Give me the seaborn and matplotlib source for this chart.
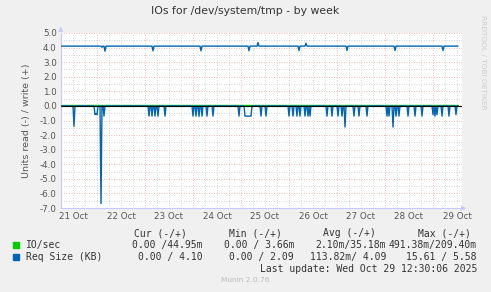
import numpy as np
import pandas as pd
import matplotlib
matplotlib.use("Agg")
import matplotlib.pyplot as plt
import seaborn as sns

# ---------------- data (hours since 21 Oct 00:00, 30-min samples) -------------
start_h = 6.0
end_h = 204.5
x_min, x_max = 6.0, 206.5

day_labels = ["21 Oct", "22 Oct", "23 Oct", "24 Oct", "25 Oct",
              "26 Oct", "27 Oct", "28 Oct", "29 Oct"]

# write side of Req Size (KB): baseline and daily dips / bumps
write_base = 4.10
write_dip_hours = [26.5, 28.0, 52.0, 76.0, 100.0, 125.0, 149.0, 173.0, 197.0]
write_dip_values = [4.02, 3.75, 3.78, 3.78, 3.78, 3.80, 3.80, 3.80, 3.80]
write_bump_hours = [104.5, 128.5]
write_bump_values = [4.35, 4.30]

# read side of Req Size (KB): spikes (shown negative)
read_spike_hours = [12.5, 23.0, 23.5, 24.0, 26.0, 27.5,
                    50.0, 51.5, 53.0, 54.5, 58.0,
                    72.0, 73.5, 75.0, 76.5, 79.0, 82.0,
                    95.0, 98.0, 98.5, 99.0, 99.5, 100.0, 100.5, 101.0, 106.0, 108.5,
                    120.0, 122.0, 124.0, 125.5, 128.0, 129.5, 130.5,
                    139.0, 141.5, 144.5, 146.5, 148.0, 152.5, 155.0, 159.0,
                    169.0, 170.0, 172.0, 173.5, 175.0, 179.5, 183.0, 186.5,
                    192.0, 193.0, 194.0, 196.5, 200.0, 203.5]
read_spike_values = [1.40, 0.60, 0.55, 0.60, 6.70, 0.70,
                     0.70, 0.70, 0.70, 0.70, 0.70,
                     0.70, 0.70, 0.72, 0.70, 0.70, 0.70,
                     0.70, 0.70, 0.70, 0.70, 0.70, 0.70, 0.70, 0.70, 0.70, 0.70,
                     0.70, 0.70, 0.70, 0.70, 0.70, 0.70, 0.70,
                     0.70, 0.70, 0.70, 0.70, 1.45, 0.70, 0.70, 0.70,
                     0.70, 0.70, 1.45, 0.70, 0.70, 0.70, 0.70, 0.70,
                     0.60, 0.70, 0.60, 0.70, 0.70, 0.60]

# IO/sec write side: small level with gaps
io_level = 0.07
io_gap_starts = [9.0, 15.0, 21.0, 36.0, 47.0, 62.0, 84.0, 95.0, 112.0, 120.0,
                 134.0, 143.0, 156.0, 166.0, 178.0, 185.0, 198.0]
io_gap_ends = [10.0, 16.5, 29.5, 37.0, 52.0, 63.5, 85.0, 100.0, 113.0, 126.0,
               135.0, 147.0, 157.0, 170.0, 179.0, 188.0, 199.0]

# legend table
col_headers = ["Cur (-/+)", "Min (-/+)", "Avg (-/+)", "Max (-/+)"]
io_stats = ["0.00 /44.95m", "0.00 / 3.66m", "2.10m/35.18m", "491.38m/209.40m"]
req_stats = ["0.00 / 4.10", "0.00 / 2.09", "113.82m/ 4.09", "15.61 / 5.58"]

# ---------------- build series -------------------------------------------------
t = np.arange(start_h, end_h + 0.25, 0.5)
write = np.full_like(t, write_base)
for h, v in zip(write_dip_hours, write_dip_values):
    write[np.isclose(t, h)] = v
for h, v in zip(write_bump_hours, write_bump_values):
    write[np.isclose(t, h)] = v
read = np.zeros_like(t)
for h, v in zip(read_spike_hours, read_spike_values):
    read[np.isclose(t, h)] = -v
io = np.full_like(t, io_level)
for a, b in zip(io_gap_starts, io_gap_ends):
    io[(t >= a) & (t <= b)] = np.nan

df = pd.DataFrame({"t": t, "write": write, "read": read, "io": io})

# ---------------- figure -------------------------------------------------------
sns.set_theme(style="white")
plt.rcParams['font.family'] = ['DejaVu Sans']

W, H = 491, 292
fig = plt.figure(figsize=(W / 100, H / 100), dpi=100)
fig.patch.set_facecolor("#F0F0F0")

px_l, px_r, px_t, px_b = 61, 462, 33, 208
ax = fig.add_axes([px_l / W, 1 - px_b / H, (px_r - px_l) / W, (px_b - px_t) / H])
ax.set_facecolor("white")
ax.set_xlim(x_min, x_max)
ax.set_ylim(-7.0, 5.0)

# grid
dot = (0, (1, 2))
for yv in np.arange(-6.5, 5.0, 1.0):
    ax.axhline(yv, color="#C8C8C8", lw=0.6, ls=dot, zorder=0)
for yv in np.arange(-7.0, 5.01, 1.0):
    ax.axhline(yv, color="#F0A0A0", lw=0.6, ls=dot, zorder=0)
for xv in np.arange(6.0, x_max, 6.0):
    if xv % 24 != 0:
        ax.axvline(xv, color="#C8C8C8", lw=0.6, ls=dot, zorder=0)
for xv in np.arange(24.0, x_max, 24.0):
    ax.axvline(xv, color="#F0A0A0", lw=0.6, ls=dot, zorder=0)

sns.lineplot(data=df, x="t", y="io", ax=ax, color="#00CC00", lw=1.0, zorder=2)
sns.lineplot(data=df, x="t", y="read", ax=ax, color="#0066B3", lw=1.0, zorder=3)
ax.axhline(0, color="black", lw=0.8, zorder=4)
sns.lineplot(data=df, x="t", y="write", ax=ax, color="#0066B3", lw=1.0, zorder=3)

for s in ["top", "right"]:
    ax.spines[s].set_visible(False)
for s in ["left", "bottom"]:
    ax.spines[s].set_color("#C8C8FF")
    ax.spines[s].set_linewidth(0.8)
ax.set_xlabel("")
ax.set_ylabel("Units read (-) / write (+)", fontsize=6.8, color="#555555", labelpad=6)

ax.set_yticks(np.arange(-7.0, 5.01, 1.0))
ax.set_yticklabels([f"{v:.1f}" for v in np.arange(-7.0, 5.01, 1.0)])
ax.set_xticks([12 + 24 * i for i in range(len(day_labels))])
ax.set_xticklabels(day_labels)
ax.tick_params(axis="both", length=0, labelsize=6.3, labelcolor="#555555", pad=3)

# arrows
fig.text((px_r + 2) / W, 1 - px_b / H, "\u25B6", color="#C8C8FF", fontsize=5,
         ha="center", va="center")
fig.text(px_l / W, 1 - (px_t - 4) / H, "\u25B2", color="#C8C8FF", fontsize=5,
         ha="center", va="center")

# title and side text
fig.text(245 / W, 1 - 11 / H, "IOs for /dev/system/tmp - by week", ha="center",
         va="center", fontsize=7.8, color="#333333")
fig.text(483 / W, 1 - 15 / H, "RRDTOOL / TOBI OETIKER", rotation=270, ha="center",
         va="top", fontsize=5.3, color="#CCCCCC")

# legend table
mono = "DejaVu Sans Mono"
fs = 7.0
hdr_right = [187, 282, 376, 471]
y_hdr, y_io, y_req, y_upd = 233, 245, 257, 269
for xr, txt in zip(hdr_right, col_headers):
    fig.text(xr / W, 1 - y_hdr / H, txt, family=mono, fontsize=fs, color="#333333",
             ha="right", va="center")
stat_right = [203, 294, 386, 477]
fig.patches.append(plt.Rectangle((13 / W, 1 - (y_io + 3) / H), 6 / W, 6 / H,
                                 transform=fig.transFigure, color="#00CC00"))
fig.patches.append(plt.Rectangle((13 / W, 1 - (y_req + 3) / H), 6 / W, 6 / H,
                                 transform=fig.transFigure, color="#0066B3"))
fig.text(26 / W, 1 - y_io / H, "IO/sec", family=mono, fontsize=fs, color="#333333",
         va="center")
fig.text(26 / W, 1 - y_req / H, "Req Size (KB)", family=mono, fontsize=fs,
         color="#333333", va="center")
for xr, a, b in zip(stat_right, io_stats, req_stats):
    fig.text(xr / W, 1 - y_io / H, a, family=mono, fontsize=fs, color="#333333",
             ha="right", va="center")
    fig.text(xr / W, 1 - y_req / H, b, family=mono, fontsize=fs, color="#333333",
             ha="right", va="center")
fig.text(477 / W, 1 - y_upd / H, "Last update: Wed Oct 29 12:30:06 2025", family=mono,
         fontsize=fs, color="#333333", ha="right", va="center")
fig.text(245 / W, 1 - 280 / H, "Munin 2.0.76", fontsize=5.3, color="#BBBBBB",
         ha="center", va="center")

fig.savefig("out.png", dpi=100, facecolor=fig.get_facecolor())
